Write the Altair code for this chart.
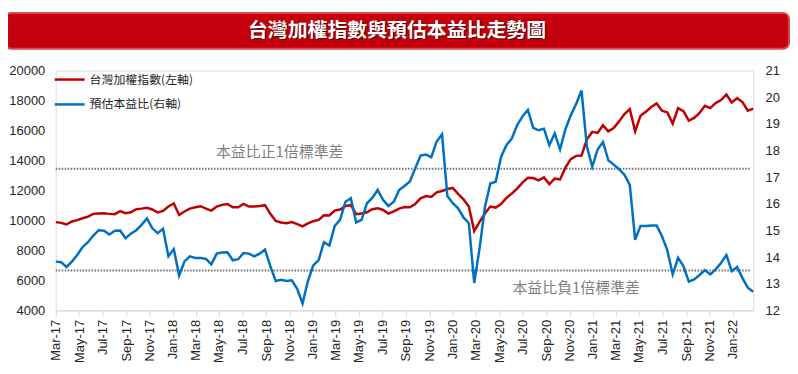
import altair as alt
import pandas as pd

# ---------------- data (biweekly) ----------------
start_date = "2017-03-01"

taiex = [
    9890, 9840, 9730, 9930, 10020, 10150, 10260, 10440, 10460, 10480,
    10440, 10420, 10620, 10480, 10550, 10750, 10790, 10840, 10730, 10530,
    10640, 10930, 11130, 10370, 10600, 10790, 10880, 10950, 10790, 10660,
    10930, 11040, 11100, 10880, 10880, 11100, 10930, 10930, 10970, 11020,
    10440, 9970, 9860, 9820, 9890, 9750, 9600, 9800, 9950, 10040,
    10350, 10330, 10660, 10730, 10970, 11020, 10420, 10460, 10550, 10750,
    10820, 10700, 10460, 10600, 10790, 10900, 10880, 11100, 11480, 11630,
    11570, 11880, 11970, 12100, 12170, 11770, 11410, 10930, 9290, 9910,
    10460, 10930, 10860, 11100, 11500, 11790, 12120, 12520, 12850, 12830,
    12670, 12870, 12430, 12790, 12740, 13520, 14090, 14310, 14330, 15420,
    15910, 15840, 16350, 15950, 16170, 16610, 17100, 17430, 15950, 16990,
    17260, 17570, 17810, 17320, 17210, 16460, 17500, 17300, 16660, 16840,
    17170, 17650, 17500, 17830, 18030, 18400, 17880, 18160, 17900, 17330, 17460,
]

pe = [
    13.83, 13.81, 13.63, 13.83, 14.08, 14.38, 14.56, 14.81, 15.01, 14.99,
    14.85, 14.99, 15.00, 14.71, 14.88, 15.01, 15.21, 15.45, 15.08, 14.90,
    15.06, 14.03, 14.30, 13.31, 13.84, 14.03, 13.97, 13.97, 13.93, 13.73,
    14.13, 14.17, 14.18, 13.88, 13.92, 14.15, 14.13, 14.03, 14.13, 14.28,
    13.66, 13.10, 13.15, 13.10, 13.13, 12.81, 12.26, 13.10, 13.69, 13.89,
    14.56, 14.43, 15.17, 15.40, 16.08, 16.21, 15.30, 15.40, 16.02, 16.22,
    16.52, 16.15, 15.92, 16.08, 16.52, 16.67, 16.84, 17.33, 17.81, 17.85,
    17.75, 18.34, 18.61, 16.29, 16.02, 15.83, 15.49, 15.27, 13.03, 14.33,
    15.88, 16.76, 16.83, 17.76, 18.20, 18.45, 18.95, 19.28, 19.53, 18.85,
    18.76, 18.82, 18.20, 18.64, 18.04, 18.80, 19.32, 19.75, 20.25, 18.15,
    17.39, 18.04, 18.32, 17.63, 17.47, 17.30, 17.09, 16.71, 14.65, 15.17,
    15.17, 15.19, 15.19, 14.78, 14.25, 13.35, 13.97, 13.66, 13.08, 13.16,
    13.33, 13.51, 13.35, 13.54, 13.78, 14.08, 13.47, 13.63, 13.21, 12.85, 12.70,
]

sd_levels = [17.32, 13.50]
sd_labels = ["本益比正1倍標準差", "本益比負1倍標準差"]
series_names = ["台灣加權指數(左軸)", "預估本益比(右軸)"]
title_text = "台灣加權指數與預估本益比走勢圖"

left_ticks = [4000, 6000, 8000, 10000, 12000, 14000, 16000, 18000, 20000]
right_ticks = [12, 13, 14, 15, 16, 17, 18, 19, 20, 21]
tick_years = [2017, 2017, 2017, 2017, 2017, 2018, 2018, 2018, 2018, 2018, 2018,
              2019, 2019, 2019, 2019, 2019, 2019, 2020, 2020, 2020, 2020, 2020, 2020,
              2021, 2021, 2021, 2021, 2021, 2021, 2022]
tick_months = [3, 5, 7, 9, 11, 1, 3, 5, 7, 9, 11, 1, 3, 5, 7, 9, 11,
               1, 3, 5, 7, 9, 11, 1, 3, 5, 7, 9, 11, 1]

RED = "#C00000"
BLUE = "#0070C0"
NUM_FONT = "Liberation Sans"
CJK_FONT = "Noto Sans CJK TC"

df = pd.DataFrame({
    "date": pd.date_range(start_date, periods=len(taiex), freq="14D"),
    "taiex": taiex,
    "pe": pe,
})

x_enc = alt.X(
    "date:T",
    scale=alt.Scale(domain=[alt.DateTime(year=2017, month=3, date=1),
                            alt.DateTime(year=2022, month=2, date=23)]),
    axis=alt.Axis(
        values=[alt.DateTime(year=y, month=m, date=1) for y, m in zip(tick_years, tick_months)],
        format="%b-%y", labelAngle=270, title=None, grid=False,
        domainColor="#d9d9d9", tickColor="#d9d9d9", tickSize=6,
        labelFont=NUM_FONT, labelFontSize=13, labelColor="#262626", labelPadding=3,
    ),
)

red = alt.Chart(df).mark_line(color=RED, strokeWidth=2.5).encode(
    x=x_enc,
    y=alt.Y("taiex:Q", scale=alt.Scale(domain=[4000, 20000], nice=False),
            axis=alt.Axis(values=left_ticks, format="d", title=None, grid=False, domain=False,
                          ticks=False, labelPadding=11, labelFont=NUM_FONT,
                          labelFontSize=13, labelColor="#262626")),
)

blue = alt.Chart(df).mark_line(color=BLUE, strokeWidth=2.5).encode(
    x=x_enc,
    y=alt.Y("pe:Q", scale=alt.Scale(domain=[12, 21], nice=False),
            axis=alt.Axis(values=right_ticks, format="d", orient="right", title=None, grid=False,
                          domain=False, ticks=False, labelPadding=12, labelFont=NUM_FONT,
                          labelFontSize=13, labelColor="#262626")),
)

sd_df = pd.DataFrame({"level": sd_levels})
sd_rules = alt.Chart(sd_df).mark_rule(color="#707070", strokeWidth=2, strokeDash=[1.5, 1.5]).encode(
    y=alt.Y("level:Q", scale=alt.Scale(domain=[12, 21], nice=False), axis=None),
    x=alt.value(0), x2=alt.value(699),
)

one = pd.DataFrame({"a": [0]})

def label(text, x, y, size, color, font=CJK_FONT, weight="normal", align="left"):
    return alt.Chart(one).mark_text(
        text=text, font=font, fontSize=size, color=color, fontWeight=weight,
        align=align, baseline="middle",
    ).encode(x=alt.value(x), y=alt.value(y))

sd_text_up = label(sd_labels[0], 161, 82, 15, "#7f7f7f")
sd_text_dn = label(sd_labels[1], 459, 219, 15, "#7f7f7f")

leg_red = alt.Chart(one).mark_rule(color=RED, strokeWidth=2.5).encode(
    x=alt.value(-1), x2=alt.value(29), y=alt.value(9))
leg_blue = alt.Chart(one).mark_rule(color=BLUE, strokeWidth=2.5).encode(
    x=alt.value(-1), x2=alt.value(29), y=alt.value(34))
leg_red_t = label(series_names[0], 34, 9, 12, "#262626")
leg_blue_t = label(series_names[1], 34, 34, 12, "#262626")

title_bar = alt.Chart(one).mark_rect(
    fill="#C3000C", stroke="#E0474C", strokeWidth=2, cornerRadius=6,
).encode(x=alt.value(-51), x2=alt.value(737), y=alt.value(-58), y2=alt.value(-22))
title_shadow = label(title_text, 344, -39, 20, "#5a0000", weight="bold", align="center")
title_t = label(title_text, 343, -40, 20, "#ffffff", weight="bold", align="center")

chart = alt.layer(
    title_bar, title_shadow, title_t,
    sd_rules, red, blue, sd_text_up, sd_text_dn,
    leg_red, leg_blue, leg_red_t, leg_blue_t,
).resolve_scale(y="independent").properties(
    width=701, height=241,
    autosize=alt.AutoSizeParams(type="none"),
    padding={"left": 48, "top": 62, "right": 37, "bottom": 58},
).configure_view(stroke=None).configure(background="white")

chart.save("out.html", embed_options={"renderer": "svg", "actions": False})
